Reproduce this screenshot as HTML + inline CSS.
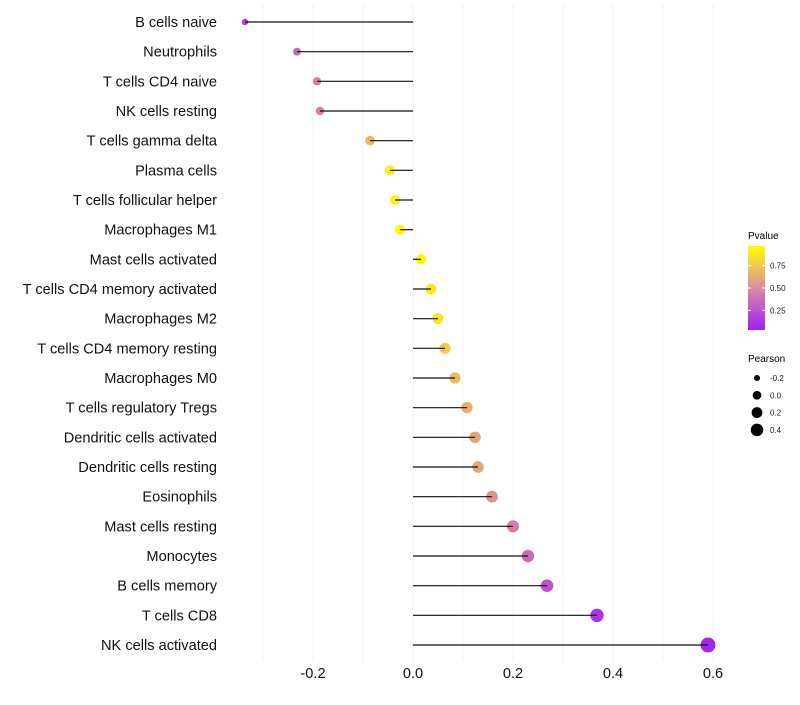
<!DOCTYPE html>
<html><head><meta charset="utf-8"><style>
body{margin:0;background:#fff;}
svg text{font-family:"Liberation Sans",sans-serif;}
</style></head><body>
<svg id="chart" width="800" height="700" xmlns="http://www.w3.org/2000/svg">
<defs><linearGradient id="pg" x1="0" y1="1" x2="0" y2="0">
<stop offset="0" stop-color="#a020f0"/><stop offset="0.5" stop-color="#d98ca5"/><stop offset="1" stop-color="#ffff00"/>
</linearGradient></defs>
<g id="grid"></g>
<g id="marks"></g>
<g id="ylab"></g>
<g id="xlab"></g>
<g>
<text x="748" y="239" font-size="10" fill="#000">Pvalue</text>
<rect x="748" y="246" width="17" height="84" fill="url(#pg)"/>
<g id="cbt"></g>
</g>
<g id="sizeleg">
<text x="748" y="362" font-size="10" fill="#000">Pearson</text>
</g>
</svg>
<script>
const categories=["B cells naive","Neutrophils","T cells CD4 naive","NK cells resting","T cells gamma delta","Plasma cells","T cells follicular helper","Macrophages M1","Mast cells activated","T cells CD4 memory activated","Macrophages M2","T cells CD4 memory resting","Macrophages M0","T cells regulatory  Tregs ","Dendritic cells activated","Dendritic cells resting","Eosinophils","Mast cells resting","Monocytes","B cells memory","T cells CD8","NK cells activated"];
const pearson=[-0.336,-0.232,-0.192,-0.186,-0.086,-0.046,-0.036,-0.026,0.016,0.036,0.05,0.064,0.084,0.108,0.124,0.13,0.158,0.2,0.23,0.268,0.368,0.59];
const pvalue=[0.15,0.35,0.45,0.45,0.72,0.95,0.97,1.0,0.97,0.93,0.9,0.8,0.73,0.68,0.64,0.64,0.55,0.45,0.35,0.25,0.1,0.02];
const xTicks=[-0.2,0,0.2,0.4,0.6];
const xTickLabels=["-0.2","0.0","0.2","0.4","0.6"];
const cbTicks=[0.25,0.5,0.75];
const cbTickLabels=["0.25","0.50","0.75"];
const sizeLegend=[-0.2,0,0.2,0.4];
const sizeLegendLabels=["-0.2","0.0","0.2","0.4"];

const NS="http://www.w3.org/2000/svg";
const X=v=>413+v*500;
const Y=i=>22+i*(623/21);
const R=v=>Math.sqrt(Math.max(2,27+48.7*v));
const RL=v=>Math.sqrt(Math.max(2,19.2+50.5*v));
function lerp(a,b,t){return a.map((x,k)=>Math.round(x+(b[k]-x)*t));}
function col(p){const a=[160,32,240],m=[217,135,160],b=[255,250,0];
 const c=p<0.5?lerp(a,m,p/0.5):lerp(m,b,(p-0.5)/0.5);return `rgb(${c.join(',')})`;}
function mk(tag,attrs,parent){const e=document.createElementNS(NS,tag);for(const k in attrs)e.setAttribute(k,attrs[k]);parent.appendChild(e);return e;}
const grid=document.getElementById('grid'),marks=document.getElementById('marks');
for(let v=-0.3;v<=0.61;v+=0.1){
 const l=mk('line',{x1:X(v),x2:X(v),y1:5,y2:662,stroke:'#f2f2f2','stroke-width':1},grid);
 
 
}
categories.forEach((c,i)=>{
 const y=Y(i);
 const pt=mk('circle',{cx:X(pearson[i]),cy:y,r:R(pearson[i]),fill:col(pvalue[i])},marks);
 
 
 const ln=mk('line',{x1:X(0),x2:X(pearson[i]),y1:y,y2:y,stroke:'#111','stroke-width':1.2},marks);
 
 
 const t=mk('text',{x:217,y:y+5,'text-anchor':'end','font-size':14.6,fill:'#111'},document.getElementById('ylab'));
 t.textContent=c;
 
 
});
xTicks.forEach((v,i)=>{
 const t=mk('text',{x:X(v),y:678,'text-anchor':'middle','font-size':14.6,fill:'#111'},document.getElementById('xlab'));
 t.textContent=xTickLabels[i];
 
 
});
const cb=document.getElementById('cbt');
cbTicks.forEach((v,i)=>{
 const y=330-(v-0.03)/(0.97-0.03)*84;
 const l1=mk('line',{x1:748,x2:751,y1:y,y2:y,stroke:'#fff'},cb);
 
 
 const l2=mk('line',{x1:762,x2:765,y1:y,y2:y,stroke:'#fff'},cb);
 
 
 const t=mk('text',{x:770,y:y+3,'font-size':8,fill:'#1a1a1a'},cb);
 t.textContent=cbTickLabels[i];
 
 
});
const sl=document.getElementById('sizeleg');
sizeLegend.forEach((v,i)=>{
 const y=378+i*17.3;
 const c=mk('circle',{cx:757,cy:y,r:RL(v),fill:'#000'},sl);
 
 
 const t=mk('text',{x:770,y:y+3,'font-size':8,fill:'#1a1a1a'},sl);
 t.textContent=sizeLegendLabels[i];
 
 
});
</script>
</body></html>
